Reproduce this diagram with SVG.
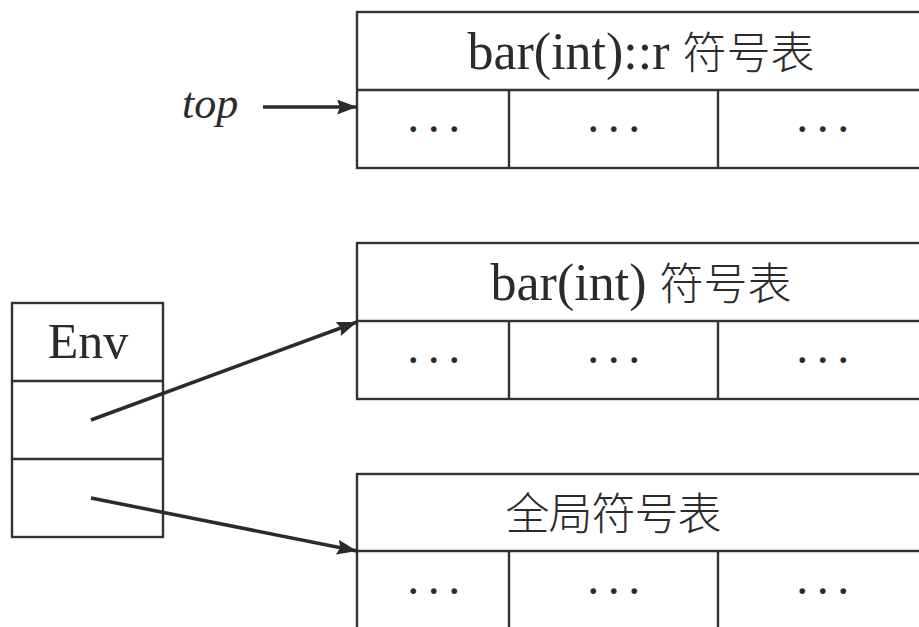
<svg xmlns="http://www.w3.org/2000/svg" width="919" height="627" viewBox="0 0 919 627">
<defs>
<style>
.box{fill:none;stroke:#333;stroke-width:2.4}
.arr{fill:none;stroke:#2b2b2b;stroke-width:3.5}
.lat{font-family:"Liberation Serif",serif;fill:#2b2b2b}
.cjk{font-family:"Noto Sans CJK SC",sans-serif;font-weight:300;fill:#2b2b2b}
.dots{font-family:"Liberation Serif",serif;font-size:48px;fill:#2b2b2b;text-anchor:middle;letter-spacing:4.5px}
</style>
<marker id="ah" markerUnits="userSpaceOnUse" markerWidth="22" markerHeight="16" refX="20" refY="7.5" orient="auto">
<path d="M0,0 L20,7.5 L0,15 L3,7.5 Z" fill="#2b2b2b"/>
</marker>
</defs>
<rect width="919" height="627" fill="#fff"/>
<g id="table-top">
<rect class="box" x="357" y="12" width="580" height="156"/>
<line class="box" x1="357" y1="90" x2="937" y2="90"/>
<line class="box" x1="509" y1="90" x2="509" y2="168"/>
<line class="box" x1="718" y1="90" x2="718" y2="168"/>
<text x="641" y="69" text-anchor="middle"><tspan class="lat" font-size="52">bar(int)::r </tspan><tspan class="cjk" font-size="44">符号表</tspan></text>
<text class="dots" x="436" y="145">···</text>
<text class="dots" x="616" y="145">···</text>
<text class="dots" x="825" y="145">···</text>
</g>
<g id="table-mid">
<rect class="box" x="357" y="243" width="580" height="156"/>
<line class="box" x1="357" y1="321" x2="937" y2="321"/>
<line class="box" x1="509" y1="321" x2="509" y2="399"/>
<line class="box" x1="718" y1="321" x2="718" y2="399"/>
<text x="641" y="300" text-anchor="middle"><tspan class="lat" font-size="52">bar(int) </tspan><tspan class="cjk" font-size="44">符号表</tspan></text>
<text class="dots" x="436" y="376">···</text>
<text class="dots" x="616" y="376">···</text>
<text class="dots" x="825" y="376">···</text>
</g>
<g id="table-global">
<rect class="box" x="357" y="474" width="580" height="160"/>
<line class="box" x1="357" y1="551" x2="937" y2="551"/>
<line class="box" x1="509" y1="551" x2="509" y2="634"/>
<line class="box" x1="718" y1="551" x2="718" y2="634"/>
<text class="cjk" x="613" y="530" font-size="44" text-anchor="middle" letter-spacing="-1">全局符号表</text>
<text class="dots" x="436" y="607">···</text>
<text class="dots" x="616" y="607">···</text>
<text class="dots" x="825" y="607">···</text>
</g>
<g id="env">
<rect class="box" x="12" y="303" width="151" height="234"/>
<line class="box" x1="12" y1="381" x2="163" y2="381"/>
<line class="box" x1="12" y1="459" x2="163" y2="459"/>
<text class="lat" x="88" y="358" font-size="50" text-anchor="middle">Env</text>
</g>
<g id="top-label">
<text class="lat" x="182" y="118" font-size="44" font-style="italic">top</text>
</g>
<g id="connectors">
<line class="arr" x1="263" y1="107" x2="357" y2="107" marker-end="url(#ah)"/>
<line class="arr" x1="91" y1="420" x2="357" y2="322" marker-end="url(#ah)"/>
<line class="arr" x1="91" y1="498" x2="357" y2="551" marker-end="url(#ah)"/>
</g>
</svg>
